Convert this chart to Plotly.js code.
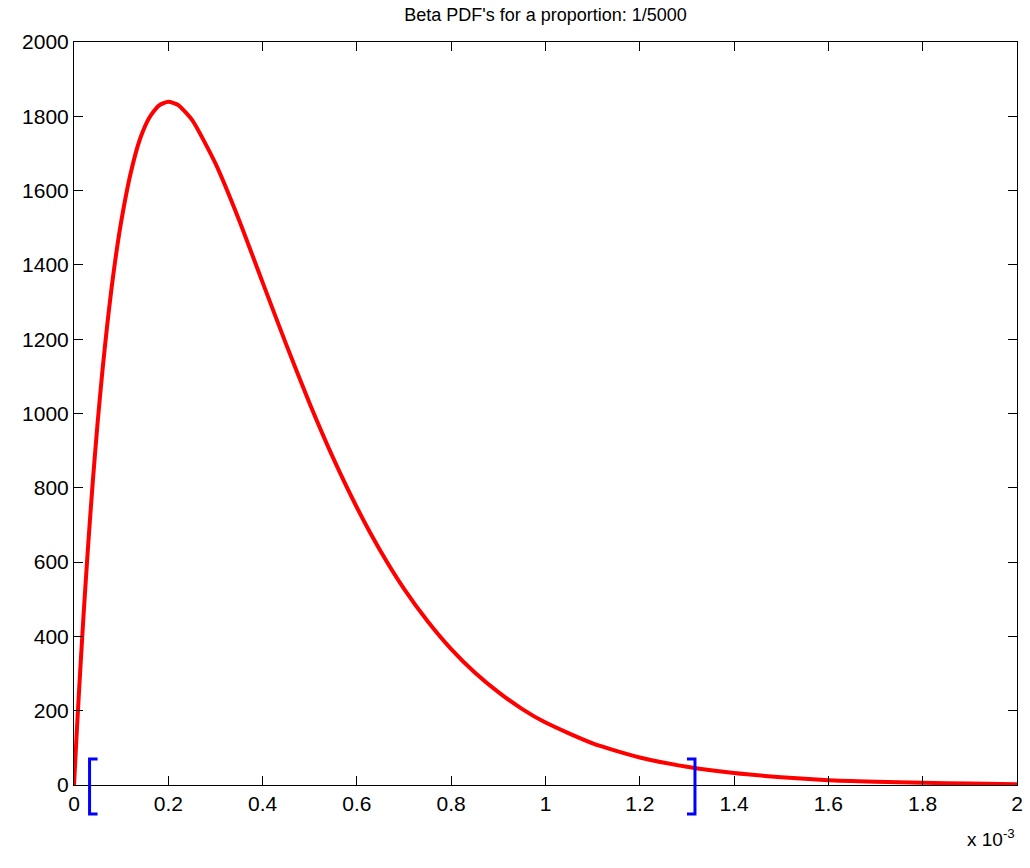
<!DOCTYPE html>
<html>
<head>
<meta charset="utf-8">
<script src="https://cdn.plot.ly/plotly-3.0.1.min.js"></script>
<style>html,body{margin:0;padding:0;background:#fff;}#chart{width:1030px;height:868px;}</style>
</head>
<body>
<div id="chart"></div>
<script>
// x values in units of 1e-3 (axis shows "x 10^-3")
const proportionX = [0, 0.005, 0.01, 0.02, 0.03, 0.04, 0.05, 0.06, 0.07, 0.08, 0.09, 0.10, 0.12, 0.14, 0.16, 0.18, 0.20, 0.22, 0.25, 0.30, 0.35, 0.40, 0.45, 0.50, 0.55, 0.60, 0.65, 0.70, 0.75, 0.80, 0.85, 0.90, 0.95, 1.00, 1.10, 1.20, 1.30, 1.40, 1.50, 1.60, 1.70, 1.80, 1.90, 2.00];
const densityY = [0, 122, 238, 452, 646, 819, 974, 1111, 1233, 1341, 1435, 1516, 1646, 1739, 1797, 1829, 1839, 1831, 1791, 1673, 1521, 1353, 1186, 1026, 879, 747, 630, 528, 441, 366, 303, 250, 205, 168, 112, 74, 49, 32, 21, 13, 9, 6, 4, 2];
const intervalBounds = [0.033, 1.317];
const titleText = "Beta PDF's for a proportion: 1/5000";
const xMultiplierLabel = "x 10<sup>-3</sup>";

const font = {family: 'Liberation Sans, Arial, Helvetica, sans-serif', color: '#000'};

const trace = {
  x: proportionX,
  y: densityY,
  type: 'scatter',
  mode: 'lines',
  line: {color: '#ff0000', width: 4, shape: 'spline', smoothing: 0.6},
  hoverinfo: 'x+y'
};

function bracketShape(xVal, opening) {
  const s = opening ? 1 : -1;
  const w = 8 * s;
  return {
    type: 'path', xref: 'x', yref: 'paper',
    xsizemode: 'pixel', ysizemode: 'pixel',
    xanchor: xVal, yanchor: 0,
    path: `M ${w} 26 L 0 26 L 0 -29 L ${w} -29`,
    line: {color: '#0000ff', width: 3},
    layer: 'above'
  };
}

const layout = {
  width: 1030, height: 868,
  margin: {l: 74, r: 13, t: 42, b: 83},
  paper_bgcolor: '#fff', plot_bgcolor: '#fff',
  showlegend: false,
  font: Object.assign({size: 21}, font),
  title: {text: titleText, font: Object.assign({size: 18}, font), x: 0.5, xref: 'paper', y: 0.983, yref: 'container', yanchor: 'middle'},
  xaxis: {
    range: [0, 2], dtick: 0.2, tick0: 0,
    ticks: 'inside', ticklen: 9, tickcolor: '#000', tickwidth: 1,
    showline: true, linecolor: '#000', linewidth: 1, mirror: 'ticks',
    showgrid: false, zeroline: false,
    tickfont: Object.assign({size: 21}, font)
  },
  yaxis: {
    range: [0, 2000], dtick: 200, tick0: 0,
    ticks: 'inside', ticklen: 9, tickcolor: '#000', tickwidth: 1,
    showline: true, linecolor: '#000', linewidth: 1, mirror: 'ticks',
    showgrid: false, zeroline: false,
    tickfont: Object.assign({size: 21}, font)
  },
  shapes: [bracketShape(intervalBounds[0], true), bracketShape(intervalBounds[1], false)],
  annotations: [{
    text: xMultiplierLabel, xref: 'paper', yref: 'paper', x: 1, y: -0.071,
    xanchor: 'right', yanchor: 'middle', showarrow: false,
    font: Object.assign({size: 19}, font)
  }]
};

Plotly.newPlot('chart', [trace], layout, {displayModeBar: false, staticPlot: true});
</script>
</body>
</html>
